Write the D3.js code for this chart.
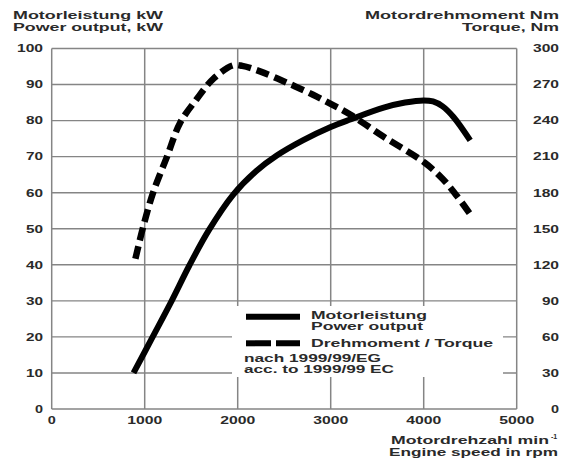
<!DOCTYPE html>
<html><head><meta charset="utf-8">
<script src="https://cdn.jsdelivr.net/npm/d3@7"></script>
<style>
html,body{margin:0;padding:0;background:#fff;}
svg{display:block;}
text{font-family:"Liberation Sans",Arial,sans-serif;fill:#2a2a2a;font-weight:bold;}
</style></head>
<body>
<svg id="chart" width="563" height="460"></svg>
<script>
// ---- data ----
const powerRpm = [880, 1090, 1290, 1480, 1690, 1950, 2200, 2420, 2700, 3000, 3210, 3570, 3800, 4000, 4100, 4200, 4320, 4500];
const powerKw  = [10, 20.2, 30, 39.8, 49.6, 59.4, 66, 70.3, 74.5, 78.2, 80.3, 83.6, 85, 85.6, 85.3, 84, 81, 74.5];
const torqueRpm = [900, 985, 1090, 1240, 1380, 1560, 1740, 1950, 2050, 2240, 2530, 2810, 3010, 3210, 3570, 4010, 4210, 4360, 4510];
const torqueNm  = [125, 152, 180, 210, 238, 258, 275, 286, 285.5, 281, 271.5, 261.5, 253.5, 245, 226.5, 205, 191, 177, 161];
const xTicks = [0, 1000, 2000, 3000, 4000, 5000];
const kwTicks = [0, 10, 20, 30, 40, 50, 60, 70, 80, 90, 100];
const nmTicks = [0, 30, 60, 90, 120, 150, 180, 210, 240, 270, 300];
const titleLeft = ["Motorleistung kW", "Power output, kW"];
const titleRight = ["Motordrehmoment Nm", "Torque, Nm"];
const titleBottom = ["Motordrehzahl min", "Engine speed in rpm"];
const legendLabels = ["Motorleistung", "Power output", "Drehmoment / Torque", "nach 1999/99/EG", "acc. to 1999/99 EC"];

// ---- layout ----
const svg = d3.select("#chart");
const x = d3.scaleLinear().domain([0, 5000]).range([51.7, 516.7]);
const yL = d3.scaleLinear().domain([0, 100]).range([409, 48.5]);
const yR = d3.scaleLinear().domain([0, 300]).range([409, 48.5]);
const grid = "#858585";
const fs = 10.4;

function label(g, txt, px, py, w, anchor) {
  return g.append("text").attr("x", px).attr("y", py).attr("text-anchor", anchor || "start")
    .attr("font-size", fs).attr("textLength", w).attr("lengthAdjust", "spacingAndGlyphs").text(txt);
}

// gridlines
const gg = svg.append("g");
gg.selectAll("line.h").data(kwTicks).join("line")
  .attr("x1", x(0)).attr("x2", x(5000)).attr("y1", d => yL(d)).attr("y2", d => yL(d))
  .attr("stroke", grid).attr("stroke-width", 1.4);
gg.selectAll("line.v").data(xTicks).join("line")
  .attr("y1", yL(0)).attr("y2", yL(100)).attr("x1", d => x(d)).attr("x2", d => x(d))
  .attr("stroke", grid).attr("stroke-width", 1.5);

// legend background
const lg = svg.append("g");
lg.append("rect").attr("x", 232).attr("y", 306).attr("width", 271).attr("height", 71).attr("fill", "#fff");

// axis labels
const digitW = n => n * 9 - 1;
const la = svg.append("g");
kwTicks.forEach(d => label(la, String(d), 43, yL(d) + 3.8, digitW(String(d).length), "end"));
nmTicks.forEach(d => label(la, String(d), 559, yR(d) + 3.8, digitW(String(d).length), "end"));
xTicks.forEach(d => label(la, String(d), x(d), 424, digitW(String(d).length), "middle"));

// titles
label(la, titleLeft[0], 13, 18.5, 150);
label(la, titleLeft[1], 13, 30.5, 150);
label(la, titleRight[0], 559, 18.5, 194, "end");
label(la, titleRight[1], 559, 30.5, 97, "end");
label(la, titleBottom[0], 549, 444, 158, "end");
la.append("text").attr("x", 551).attr("y", 439).attr("font-size", 7).text("-1");
label(la, titleBottom[1], 558, 456, 169, "end");

// curves
const line = d3.line().curve(d3.curveCatmullRom.alpha(0.5));
const pPts = powerRpm.map((r, i) => [x(r), yL(powerKw[i])]);
const tPts = torqueRpm.map((r, i) => [x(r), yR(torqueNm[i])]);
svg.append("path").attr("d", line(tPts)).attr("fill", "none").attr("stroke", "#000")
  .attr("stroke-width", 6.5).attr("stroke-dasharray", "13,6");
svg.append("path").attr("d", line(pPts)).attr("fill", "none").attr("stroke", "#000")
  .attr("stroke-width", 6);

// legend content
lg.append("line").attr("x1", 246).attr("x2", 300).attr("y1", 316.7).attr("y2", 316.7)
  .attr("stroke", "#000").attr("stroke-width", 6);
lg.append("line").attr("x1", 246).attr("x2", 300).attr("y1", 343.3).attr("y2", 343.3)
  .attr("stroke", "#000").attr("stroke-width", 6).attr("stroke-dasharray", "25,5");
label(lg, legendLabels[0], 311, 318.5, 116);
label(lg, legendLabels[1], 311, 330, 112);
label(lg, legendLabels[2], 311, 347, 182);
label(lg, legendLabels[3], 244, 361.7, 137);
label(lg, legendLabels[4], 244, 373.3, 150);
</script>
</body></html>
